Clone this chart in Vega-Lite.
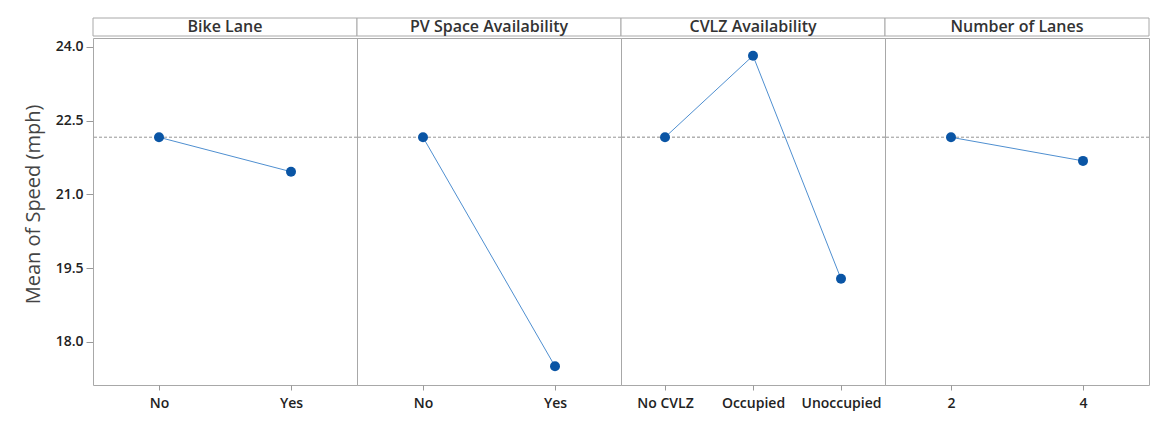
{
  "$schema": "https://vega.github.io/schema/vega-lite/v6.json",
  "padding": {"left": 23, "top": 17, "right": 5, "bottom": 5},
  "background": "white",
  "datasets": {
    "effects": [
      {"factor": "Bike Lane", "level": "No", "mean": 22.16},
      {"factor": "Bike Lane", "level": "Yes", "mean": 21.46},
      {"factor": "PV Space Availability", "level": "No", "mean": 22.16},
      {"factor": "PV Space Availability", "level": "Yes", "mean": 17.5},
      {"factor": "CVLZ Availability", "level": "No CVLZ", "mean": 22.16},
      {"factor": "CVLZ Availability", "level": "Occupied", "mean": 23.82},
      {"factor": "CVLZ Availability", "level": "Unoccupied", "mean": 19.28},
      {"factor": "Number of Lanes", "level": "2", "mean": 22.16},
      {"factor": "Number of Lanes", "level": "4", "mean": 21.68}
    ],
    "factors": [
      {"factor": "Bike Lane"},
      {"factor": "PV Space Availability"},
      {"factor": "CVLZ Availability"},
      {"factor": "Number of Lanes"}
    ]
  },
  "spacing": 0,
  "vconcat": [
    {
      "data": {"name": "factors"},
      "spacing": 0,
      "bounds": "flush",
      "facet": {
        "column": {
          "field": "factor", "type": "nominal",
          "sort": ["Bike Lane", "PV Space Availability", "CVLZ Availability", "Number of Lanes"],
          "header": {"title": null, "labels": false}
        }
      },
      "spec": {
        "width": 264, "height": 18,
        "layer": [
          {
            "mark": {"type": "rect", "fill": "white", "stroke": "#a8a8a8", "strokeWidth": 1},
            "encoding": {}
          },
          {
            "mark": {"type": "text", "font": "Open Sans", "fontSize": 16, "fontWeight": 600, "color": "#333333"},
            "encoding": {"text": {"field": "factor", "type": "nominal"}}
          }
        ]
      }
    },
    {
      "data": {"name": "effects"},
      "spacing": 0,
      "bounds": "flush",
      "facet": {
        "column": {
          "field": "factor", "type": "nominal",
          "sort": ["Bike Lane", "PV Space Availability", "CVLZ Availability", "Number of Lanes"],
          "header": {"title": null, "labels": false}
        }
      },
      "resolve": {"scale": {"x": "independent"}},
      "spec": {
        "width": 264, "height": 347,
        "layer": [
          {
            "mark": {"type": "rule", "strokeDash": [3, 2], "color": "#b0b0b0", "strokeWidth": 1},
            "encoding": {"y": {"datum": 22.16, "type": "quantitative", "scale": {"domain": [17.12, 24.18], "nice": false, "zero": false}}}
          },
          {
            "mark": {"type": "line", "color": "#4f8fd0", "strokeWidth": 1},
            "encoding": {
              "x": {"field": "level", "type": "nominal", "scale": {"type": "point", "padding": 0.5}, "axis": {"title": null}},
              "y": {"field": "mean", "type": "quantitative", "title": "Mean of Speed (mph)",
                    "axis": {"values": [18, 19.5, 21, 22.5, 24], "format": ".1f", "titleY": 166}}
            }
          },
          {
            "mark": {"type": "point", "filled": true, "size": 100, "color": "#0a55a5", "opacity": 1},
            "encoding": {
              "x": {"field": "level", "type": "nominal"},
              "y": {"field": "mean", "type": "quantitative"}
            }
          }
        ]
      }
    }
  ],
  "config": {
    "view": {"stroke": "#a8a8a8", "strokeWidth": 1},
    "axis": {
      "labelFont": "Open Sans", "titleFont": "Open Sans",
      "gridColor": "#ececec", "tickColor": "#999999", "domain": false
    },
    "axisX": {
      "labelAngle": 0, "labelFontSize": 14, "labelFontWeight": 600, "labelColor": "#222222",
      "tickSize": 5, "labelPadding": 6
    },
    "axisY": {
      "labelFontSize": 14, "labelFontWeight": 600, "labelColor": "#222222",
      "tickSize": 7, "labelPadding": 3,
      "titleFontSize": 20, "titleFontWeight": "normal", "titleColor": "#444444", "titlePadding": 12
    }
  }
}
